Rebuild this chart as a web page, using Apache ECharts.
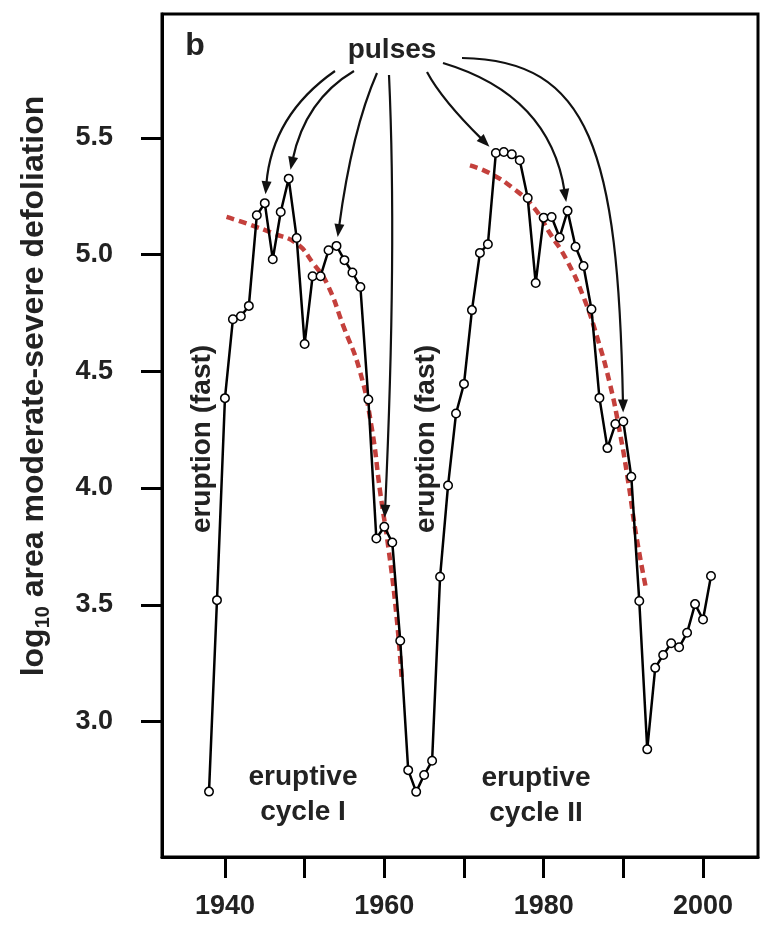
<!DOCTYPE html>
<html>
<head>
<meta charset="utf-8">
<script src="https://cdn.jsdelivr.net/npm/echarts@6/dist/echarts.min.js"></script>
<style>
html,body{margin:0;padding:0;background:#fff;}
#chart{width:760px;height:929px;}
</style>
</head>
<body>
<div id="chart"></div>
<script>
// ---- data ----
const years = [1938,1939,1940,1941,1942,1943,1944,1945,1946,1947,1948,1949,1950,1951,1952,1953,1954,1955,1956,1957,1958,1959,1960,1961,1962,1963,1964,1965,1966,1967,1968,1969,1970,1971,1972,1973,1974,1975,1976,1977,1978,1979,1980,1981,1982,1983,1984,1985,1986,1987,1988,1989,1990,1991,1992,1993,1994,1995,1996,1997,1998,1999,2000,2001];
const logArea = [2.70,3.52,4.385,4.723,4.736,4.78,5.168,5.22,4.98,5.182,5.325,5.071,4.617,4.907,4.907,5.018,5.037,4.976,4.923,4.861,4.379,3.784,3.834,3.767,3.346,2.792,2.699,2.771,2.832,3.62,4.011,4.319,4.446,4.762,5.007,5.044,5.435,5.439,5.429,5.404,5.242,4.878,5.158,5.161,5.073,5.187,5.033,4.951,4.766,4.386,4.171,4.274,4.285,4.048,3.516,2.881,3.23,3.285,3.335,3.318,3.38,3.503,3.437,3.623];
const fit1Years  = [1940.2,1942.7,1946.1,1949.0,1951.1,1952.8,1954.9,1956.9,1958.4,1959.5,1960.5,1961.5,1962.2];
const fit1Values = [5.161,5.133,5.09,5.047,4.961,4.876,4.69,4.505,4.262,3.978,3.748,3.463,3.178];
const fit2Years  = [1970.75,1973.3,1976.2,1978.7,1980.8,1982.9,1985.0,1986.7,1988.3,1989.5,1990.6,1991.6,1992.9];
const fit2Values = [5.382,5.347,5.283,5.204,5.09,4.976,4.818,4.647,4.448,4.25,4.03,3.80,3.56];
const pulseYears = [1945,1948,1954,1960,1974,1983,1990];
const xTickValues = [1940,1950,1960,1970,1980,1990,2000];
const xLabelValues = [1940,1960,1980,2000];
const yTickValues = [3.0,3.5,4.0,4.5,5.0,5.5];

// ---- chart ----
const chart = echarts.init(document.getElementById('chart'), null, {renderer:'canvas'});
const FONT = '"Liberation Sans", Arial, Helvetica, sans-serif';
const TXT = '#222';

const mainData = years.map((y,i)=>[y, logArea[i]]);
const fit1 = fit1Years.map((y,i)=>[y, fit1Values[i]]);
const fit2 = fit2Years.map((y,i)=>[y, fit2Values[i]]);

chart.setOption({
  animation:false,
  backgroundColor:'#fff',
  grid:{left:162, top:14, right:2, bottom:72, show:true, borderColor:'#000', borderWidth:3},
  xAxis:{
    type:'value', min:1932.1, max:2006.9,
    axisLine:{show:true, lineStyle:{color:'#000', width:3}},
    axisTick:{show:true, length:21, lineStyle:{color:'#000', width:3}, customValues:xTickValues},
    axisLabel:{customValues:xLabelValues, margin:36, color:TXT, fontSize:27, fontWeight:'bold', fontFamily:FONT,
      formatter:(v)=>String(Math.round(v))},
    splitLine:{show:false}
  },
  yAxis:{
    type:'value', min:2.42, max:6.03,
    axisLine:{show:true, lineStyle:{color:'#000', width:3}},
    axisTick:{show:true, length:21, lineStyle:{color:'#000', width:3}, customValues:yTickValues},
    axisLabel:{customValues:yTickValues, margin:49, color:TXT, fontSize:27, fontWeight:'bold', fontFamily:FONT,
      formatter:(v)=>Number(v).toFixed(1)},
    splitLine:{show:false}
  },
  series:[
    {type:'line', data:fit1, smooth:true, symbol:'none', z:2,
     lineStyle:{color:'#c4403c', width:4.5, type:[8,5]}},
    {type:'line', data:fit2, smooth:true, symbol:'none', z:2,
     lineStyle:{color:'#c4403c', width:4.5, type:[8,5]}},
    {type:'line', data:mainData, symbol:'circle', symbolSize:8.5, z:3,
     lineStyle:{color:'#000', width:2.5},
     itemStyle:{color:'#fff', borderColor:'#000', borderWidth:1.5}}
  ]
});

// ---- annotations (pixel layout) ----
const arrowLayout = [
  {from:[335,71], c1:[272,115]},
  {from:[354,71], c1:[305,100]},
  {from:[377,73], c1:[352,130]},
  {from:[389,75], c1:[397,250]},
  {from:[427,72], c1:[442,100]},
  {from:[443,63], c1:[550,95]},
  {from:[462,58], c1:[590,60], c2:[618,150]}
];
const graphics = [];
pulseYears.forEach((yr, k)=>{
  const idx = years.indexOf(yr);
  const p = chart.convertToPixel({gridIndex:0}, [yr, logArea[idx]]);
  const L = arrowLayout[k];
  const last = L.c2 || L.c1;
  let dx = p[0]-last[0], dy = p[1]-last[1];
  let len = Math.hypot(dx,dy); dx/=len; dy/=len;
  const tip = [p[0]-dx*9, p[1]-dy*9];
  const AL = 13, AW = 5;
  const base = [tip[0]-dx*AL, tip[1]-dy*AL];
  const shape = {x1:L.from[0], y1:L.from[1], x2:base[0]+dx*3, y2:base[1]+dy*3, cpx1:L.c1[0], cpy1:L.c1[1]};
  if (L.c2) { shape.cpx2 = L.c2[0]; shape.cpy2 = L.c2[1]; }
  graphics.push({type:'bezierCurve', shape:shape, z:50, style:{stroke:'#111', lineWidth:2.2, fill:null}});
  graphics.push({type:'polygon', z:50, shape:{points:[tip,[base[0]-dy*AW, base[1]+dx*AW],[base[0]+dy*AW, base[1]-dx*AW]]}, style:{fill:'#111'}});
});
function txt(x,y,text,size,rot,extra){
  return Object.assign({type:'text', x:x, y:y, rotation:rot||0, z:60,
    style:{text:text, fill:TXT, font:'bold '+size+'px '+FONT, textAlign:'center', textVerticalAlign:'middle'}}, extra||{});
}
graphics.push(txt(195,46,'b',32));
graphics.push(txt(392,50,'pulses',28));
graphics.push(txt(202,439,'eruption (fast)',28,Math.PI/2));
graphics.push(txt(426,439,'eruption (fast)',28,Math.PI/2));
graphics.push({type:'text', x:303, y:795, z:60, style:{text:'eruptive\ncycle I', fill:TXT, font:'bold 28px '+FONT, textAlign:'center', textVerticalAlign:'middle', lineHeight:35}});
graphics.push({type:'text', x:536, y:796, z:60, style:{text:'eruptive\ncycle II', fill:TXT, font:'bold 28px '+FONT, textAlign:'center', textVerticalAlign:'middle', lineHeight:35}});
graphics.push({type:'text', x:34, y:386, rotation:Math.PI/2, z:60,
  style:{text:'{a|log}{s|10}{a| area moderate-severe defoliation}', textAlign:'center', textVerticalAlign:'middle',
    rich:{
      a:{fontSize:32, fontWeight:'bold', fontFamily:FONT, fill:TXT, lineHeight:38},
      s:{fontSize:20, fontWeight:'bold', fontFamily:FONT, fill:TXT, lineHeight:20, verticalAlign:'bottom'}
    }}});
chart.setOption({graphic:graphics});
</script>
</body>
</html>
